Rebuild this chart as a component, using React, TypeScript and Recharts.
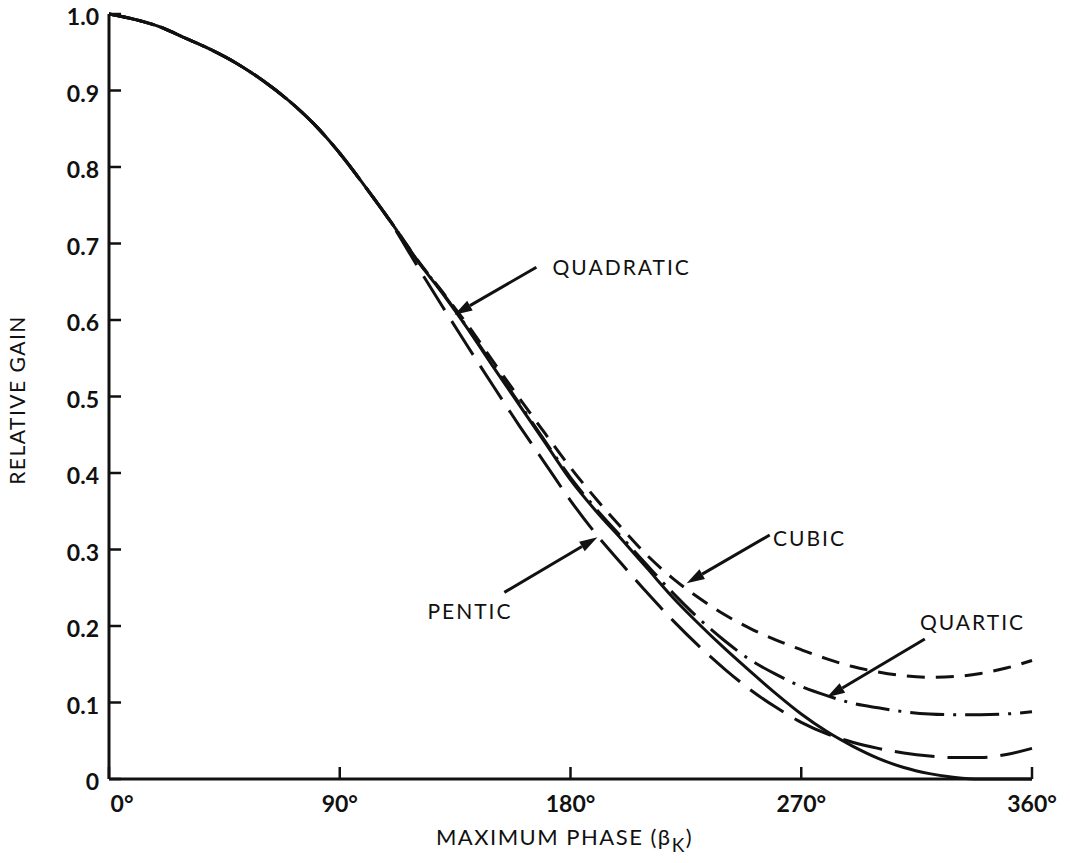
import React from 'react';
import { LineChart, Line, XAxis, YAxis, ReferenceLine, ReferenceDot, Label } from 'recharts';

// maximum phase in degrees
const phase = [
  0, 10, 20, 30, 40, 50, 60, 70, 80, 90, 100, 110, 120, 130, 140, 150, 160, 170, 180,
  190, 200, 210, 220, 230, 240, 250, 260, 270, 280, 290, 300, 310, 320, 330, 340, 350, 360,
];

const quadratic = [
  1.0, 0.993, 0.983, 0.968, 0.953, 0.935, 0.913, 0.887, 0.856, 0.818, 0.774, 0.728, 0.679,
  0.635, 0.588, 0.538, 0.489, 0.44, 0.391, 0.35, 0.313, 0.275, 0.237, 0.203, 0.171, 0.141,
  0.112, 0.085, 0.062, 0.043, 0.027, 0.015, 0.007, 0.002, 0.0, 0.0, 0.0,
];

const cubic = [
  1.0, 0.993, 0.983, 0.968, 0.953, 0.935, 0.913, 0.887, 0.856, 0.818, 0.774, 0.728, 0.68,
  0.637, 0.593, 0.545, 0.498, 0.452, 0.407, 0.366, 0.328, 0.292, 0.262, 0.237, 0.215, 0.197,
  0.182, 0.169, 0.157, 0.147, 0.14, 0.135, 0.133, 0.134, 0.138, 0.145, 0.155,
];

const quartic = [
  1.0, 0.993, 0.983, 0.968, 0.953, 0.935, 0.913, 0.887, 0.856, 0.818, 0.774, 0.728, 0.679,
  0.636, 0.589, 0.54, 0.491, 0.442, 0.394, 0.353, 0.316, 0.279, 0.243, 0.21, 0.181, 0.156,
  0.137, 0.121, 0.109, 0.099, 0.093, 0.088, 0.085, 0.084, 0.084, 0.085, 0.088,
];

const pentic = [
  1.0, 0.993, 0.983, 0.968, 0.953, 0.935, 0.913, 0.887, 0.856, 0.818, 0.774, 0.727, 0.672,
  0.618, 0.565, 0.513, 0.462, 0.413, 0.364, 0.32, 0.281, 0.243, 0.207, 0.174, 0.144, 0.117,
  0.094, 0.074, 0.059, 0.048, 0.04, 0.034, 0.03, 0.028, 0.028, 0.032, 0.04,
];

const xTicks = [0, 90, 180, 270, 360];
const yTicks = [0, 0.1, 0.2, 0.3, 0.4, 0.5, 0.6, 0.7, 0.8, 0.9, 1.0];

// callouts: text anchor, arrow tail, arrow tip (data coords)
const callouts = [
  { text: 'QUADRATIC', tx: 173, ty: 0.669, x1: 166.7, y1: 0.669, x2: 134.7, y2: 0.607 },
  { text: 'CUBIC', tx: 259, ty: 0.315, x1: 257.7, y1: 0.319, x2: 225.3, y2: 0.256 },
  { text: 'PENTIC', tx: 124.2, ty: 0.22, x1: 154.2, y1: 0.244, x2: 190.5, y2: 0.316 },
  { text: 'QUARTIC', tx: 316.3, ty: 0.205, x1: 318.2, y1: 0.183, x2: 280, y2: 0.107 },
];

const rows = phase.map((p, i) => ({
  phase: p,
  quadratic: quadratic[i],
  cubic: cubic[i],
  quartic: quartic[i],
  pentic: pentic[i],
}));

const INK = '#111';
const FONT = 'Lato, "Open Sans", sans-serif';

function XTick({ x, y, payload }: any) {
  const shift = payload.value === 0 ? 13 : 0;
  return (
    <text x={x + shift} y={y} dy={17} textAnchor="middle" fontFamily={FONT} fontWeight={700} fontSize={23} fill={INK}>
      {payload.value}°
    </text>
  );
}

function YTick({ x, y, payload }: any) {
  const v = payload.value === 0 ? '0' : payload.value.toFixed(1);
  return (
    <text x={x} y={y} dy={11} textAnchor="end" fontFamily={FONT} fontWeight={700} fontSize={23} fill={INK}>
      {v}
    </text>
  );
}

function Arrow(props: any) {
  const { x1, y1, x2, y2 } = props;
  const dx = x2 - x1;
  const dy = y2 - y1;
  const len = Math.sqrt(dx * dx + dy * dy);
  const ux = dx / len;
  const uy = dy / len;
  const head = 18;
  const half = 5.5;
  const bx = x2 - ux * head;
  const by = y2 - uy * head;
  const pts = `${x2},${y2} ${bx - uy * half},${by + ux * half} ${bx + uy * half},${by - ux * half}`;
  return (
    <g>
      <line x1={x1} y1={y1} x2={bx} y2={by} stroke={INK} strokeWidth={3} />
      <polygon points={pts} fill={INK} />
    </g>
  );
}

function CalloutText(text: string) {
  return (props: any) => (
    <text
      x={props.cx}
      y={props.cy}
      dy={8}
      textAnchor="start"
      fontFamily={FONT}
      fontSize={21}
      letterSpacing={2}
      fill={INK}
    >
      {text}
    </text>
  );
}

function XTitle(props: any) {
  const { viewBox } = props;
  const cx = viewBox.x + viewBox.width / 2 - 6;
  return (
    <text x={cx} y={845} textAnchor="middle" fontFamily={FONT} fontSize={22} letterSpacing={1.5} fill={INK}>
      MAXIMUM PHASE (β
      <tspan dy={7} fontSize={19}>K</tspan>
      <tspan dy={-7}>)</tspan>
    </text>
  );
}

function YTitle() {
  return (
    <text
      x={25}
      y={400}
      transform="rotate(-90 25 400)"
      textAnchor="middle"
      fontFamily={FONT}
      fontSize={21}
      letterSpacing={1.5}
      fill={INK}
    >
      RELATIVE GAIN
    </text>
  );
}

export default function App() {
  return (
    <div style={{ position: 'absolute', left: 0, top: 0, width: 1070, height: 863, background: '#fff' }}>
      <LineChart width={1070} height={863} data={rows} margin={{ top: 14, right: 38, bottom: 0, left: 0 }}>
        <XAxis
          dataKey="phase"
          type="number"
          domain={[0, 360]}
          ticks={xTicks}
          height={84}
          axisLine={{ stroke: INK, strokeWidth: 3 }}
          tickLine={{ stroke: INK, strokeWidth: 2.5 }}
          tickSize={-12}
          tickMargin={28}
          tick={<XTick />}
          interval={0}
        >
          <Label content={<XTitle />} />
        </XAxis>
        <YAxis
          type="number"
          domain={[0, 1]}
          ticks={yTicks}
          width={109}
          axisLine={{ stroke: INK, strokeWidth: 3 }}
          tickLine={{ stroke: INK, strokeWidth: 2.5 }}
          tickSize={-12}
          tickMargin={22}
          tick={<YTick />}
          interval={0}
        >
          <Label content={<YTitle />} />
        </YAxis>
        <Line
          dataKey="cubic"
          type="monotone"
          stroke={INK}
          strokeWidth={3}
          strokeDasharray="18 11"
          dot={false}
          isAnimationActive={false}
        />
        <Line
          dataKey="quartic"
          type="monotone"
          stroke={INK}
          strokeWidth={3}
          strokeDasharray="34 9 3 9"
          dot={false}
          isAnimationActive={false}
        />
        <Line
          dataKey="pentic"
          type="monotone"
          stroke={INK}
          strokeWidth={3}
          strokeDasharray="40 13"
          dot={false}
          isAnimationActive={false}
        />
        <Line
          dataKey="quadratic"
          type="monotone"
          stroke={INK}
          strokeWidth={3}
          dot={false}
          isAnimationActive={false}
        />
        {callouts.map((c) => (
          <ReferenceLine
            key={'a' + c.text}
            segment={[
              { x: c.x1, y: c.y1 },
              { x: c.x2, y: c.y2 },
            ]}
            shape={<Arrow />}
          />
        ))}
        {callouts.map((c) => (
          <ReferenceDot key={'t' + c.text} x={c.tx} y={c.ty} r={0} shape={CalloutText(c.text)} />
        ))}
      </LineChart>
    </div>
  );
}
